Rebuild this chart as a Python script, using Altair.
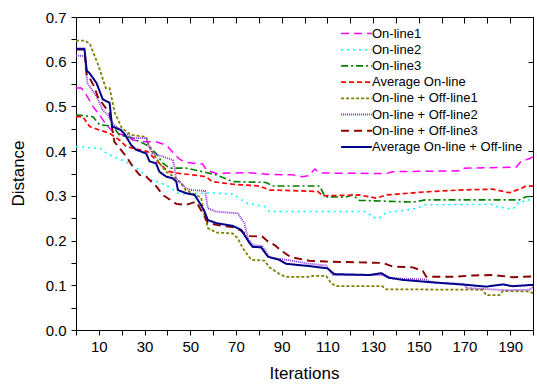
import altair as alt
import pandas as pd

series_names = ["On-line1", "On-line2", "On-line3", "Average On-line",
                "On-line + Off-line1", "On-line + Off-line2", "On-line + Off-line3",
                "Average On-line + Off-line"]
series_colors = ["#FF00FF", "#00FFFF", "#008000", "#FF0000",
                 "#808000", "#8A2BE2", "#8B0000", "#00008B"]
series_dash = [[8, 5], [2, 4], [7, 3, 2, 3], [5, 3], [3, 2], [1, 1], [8, 5], [1, 0]]
series_width = [1.5, 2, 1.5, 2.5, 1.5, 1.5, 1.5, 2]

x_tick_values = list(range(0, 201, 10))
y_tick_values = [0, 0.05, 0.1, 0.15, 0.2, 0.25, 0.3, 0.35, 0.4, 0.45, 0.5, 0.55, 0.6, 0.65, 0.7]

on1 = [(0, 0.541), (2.3, 0.541), (4.5, 0.526), (7.4, 0.5), (10.3, 0.481), (13.2, 0.459),
       (16.1, 0.444), (20.5, 0.436), (24.9, 0.425), (29.2, 0.421), (35, 0.421), (38, 0.416),
       (40.2, 0.41), (42.4, 0.397), (45.3, 0.382), (48.2, 0.375), (52.6, 0.372), (55.5, 0.371),
       (57, 0.358), (61.4, 0.35), (74.5, 0.352), (84.7, 0.348), (94.8, 0.347), (99, 0.343),
       (102, 0.345), (104.5, 0.36), (106.6, 0.351), (135.8, 0.35), (138.6, 0.354),
       (167.8, 0.356), (169.5, 0.362), (192.6, 0.364), (194.8, 0.377), (197.7, 0.382),
       (200, 0.387)]
on2 = [(0, 0.41), (10.6, 0.406), (13.5, 0.395), (16.4, 0.388), (22.2, 0.375), (27.4, 0.36),
       (32.2, 0.337), (39.5, 0.324), (45.3, 0.304), (51, 0.304), (58.4, 0.307), (68.6, 0.304),
       (74.5, 0.284), (82.5, 0.276), (84.7, 0.265), (127, 0.265), (130, 0.252), (132.8, 0.25),
       (135.8, 0.263), (144.5, 0.268), (148.9, 0.272), (153, 0.28), (182.4, 0.281),
       (184, 0.276), (191, 0.27), (194, 0.287), (197, 0.288), (200, 0.295)]
on3 = [(0, 0.481), (7.4, 0.477), (10.3, 0.459), (16.1, 0.456), (19, 0.436), (24.9, 0.429),
       (32.2, 0.41), (35, 0.395), (38, 0.373), (41, 0.362), (48.2, 0.362), (55.5, 0.354),
       (61.4, 0.347), (68.6, 0.332), (83.2, 0.33), (86, 0.322), (106.6, 0.322), (109, 0.298),
       (118, 0.297), (121, 0.302), (124, 0.29), (147.4, 0.286), (153, 0.291), (194, 0.291),
       (197, 0.298), (200, 0.299)]
avg_on = [(0, 0.477), (3, 0.477), (6, 0.455), (10.3, 0.447), (14.7, 0.44), (19, 0.425),
          (22, 0.41), (27.8, 0.403), (31.4, 0.399), (35, 0.38), (39.5, 0.358), (41, 0.354),
          (45.3, 0.35), (51, 0.347), (57, 0.343), (59.5, 0.332), (68.6, 0.326), (80.3, 0.322),
          (84.7, 0.313), (105.8, 0.31), (108, 0.3), (124, 0.302), (131.4, 0.295),
          (135.8, 0.302), (153, 0.309), (167.8, 0.313), (182.4, 0.315), (189.7, 0.307),
          (194, 0.315), (197, 0.322), (200, 0.322)]
off1 = [(0, 0.647), (3.7, 0.647), (6, 0.641), (10, 0.589), (13, 0.541), (14.7, 0.541),
        (17, 0.485), (20, 0.452), (24, 0.436), (30.7, 0.432), (32, 0.41), (36.5, 0.373),
        (39.5, 0.354), (43.8, 0.339), (46, 0.328), (48, 0.313), (52.6, 0.302), (54.8, 0.295),
        (56, 0.261), (57.7, 0.228), (61.4, 0.218), (68.5, 0.216), (70.8, 0.205), (73, 0.183),
        (76.7, 0.157), (82.5, 0.155), (84.7, 0.14), (89.8, 0.123), (92, 0.119), (102, 0.119),
        (103.6, 0.121), (109.5, 0.121), (111.7, 0.104), (113.9, 0.098), (134, 0.098),
        (135.8, 0.091), (178, 0.09), (179.5, 0.078), (185.3, 0.078), (186.8, 0.087),
        (198.5, 0.086), (200, 0.082)]
off2 = [(0, 0.613), (3.7, 0.613), (5, 0.552), (9, 0.522), (11.7, 0.492), (14, 0.481),
        (16, 0.462), (20, 0.444), (24.8, 0.429), (30.7, 0.429), (32, 0.41), (33.5, 0.395),
        (37.9, 0.388), (42.4, 0.38), (43, 0.365), (43.8, 0.339), (48.2, 0.317), (50.4, 0.313),
        (56.5, 0.311), (57.7, 0.272), (61, 0.265), (70.8, 0.261), (73.7, 0.239), (75.2, 0.205),
        (77.4, 0.19), (81.5, 0.188), (84.7, 0.162), (92, 0.157), (101, 0.149), (109.5, 0.144),
        (112.4, 0.123), (134, 0.123), (137, 0.116), (153, 0.113), (156, 0.106), (170, 0.103),
        (170.8, 0.094), (188, 0.089), (198.5, 0.09), (200, 0.096)]
off3 = [(0, 0.627), (3.7, 0.627), (4.7, 0.57), (6, 0.563), (8, 0.544), (9.5, 0.522),
        (12.5, 0.5), (14.7, 0.485), (16.8, 0.421), (22, 0.388), (24.9, 0.365), (27.8, 0.347),
        (30.7, 0.343), (35, 0.322), (38, 0.302), (41, 0.292), (43.9, 0.282), (48.2, 0.28),
        (52.6, 0.287), (55.5, 0.261), (57.7, 0.24), (61.4, 0.235), (68.6, 0.23), (71.6, 0.224),
        (75.2, 0.21), (81.5, 0.209), (84, 0.198), (86.9, 0.19), (90.5, 0.175), (94, 0.163),
        (102, 0.155), (109.5, 0.153), (134.3, 0.15), (138.6, 0.142), (147.4, 0.14),
        (151.8, 0.132), (153.3, 0.119), (165, 0.119), (173.7, 0.122), (182.4, 0.123),
        (191.2, 0.118), (200, 0.12)]
avg_off = [(0, 0.629), (3.7, 0.629), (4.7, 0.58), (6, 0.574), (9, 0.552), (11.7, 0.516),
           (14.7, 0.508), (15.8, 0.455), (19.8, 0.447), (22, 0.432), (24.1, 0.414),
           (26.3, 0.403), (30.7, 0.395), (32.2, 0.377), (35, 0.373), (36.5, 0.354),
           (39.5, 0.343), (42.4, 0.339), (43.9, 0.332), (44.6, 0.313), (48.2, 0.306),
           (51.9, 0.302), (53.3, 0.291), (56, 0.268), (57.7, 0.246), (61.4, 0.239),
           (68.5, 0.233), (72.3, 0.224), (76, 0.194), (77.3, 0.186), (81, 0.185), (84, 0.164),
           (89, 0.157), (92, 0.148), (102, 0.143), (110, 0.138), (113, 0.125), (128.4, 0.123),
           (133.6, 0.127), (137, 0.117), (143, 0.112), (157.6, 0.106), (170.8, 0.101),
           (179.5, 0.097), (186.8, 0.102), (191, 0.098), (200, 0.101)]

all_series = [on1, on2, on3, avg_on, off1, off2, off3, avg_off]

rows = []
for name, pts in zip(series_names, all_series):
    for i, (it, d) in enumerate(pts):
        rows.append({"series": name, "it": it, "dist": d, "order": i})
df = pd.DataFrame(rows)

FONT = "Liberation Sans"

legend_cfg = dict(
    orient="none", legendX=274, legendY=10, title=None,
    symbolType="M-5,0H5", symbolSize=38, labelFontSize=13, labelFont=FONT,
    labelColor="black", rowPadding=2.2, labelOffset=9, labelLimit=300,
)

xscale = alt.Scale(domain=[0, 200], nice=False, zero=False)
yscale = alt.Scale(domain=[0, 0.7], nice=False, zero=False)

lines = alt.Chart(df).mark_line(clip=True).encode(
    x=alt.X("it:Q", scale=xscale,
            axis=alt.Axis(values=x_tick_values, orient="bottom",
                          labelExpr="datum.value % 20 == 10 ? datum.label : ''",
                          title="Iterations", tickSize=5, labelPadding=4,
                          titleX=228, titleY=48, titleBaseline="alphabetic")),
    y=alt.Y("dist:Q", scale=yscale,
            axis=alt.Axis(values=y_tick_values, orient="left",
                          labelExpr="round(datum.value * 100) % 10 == 0 ? format(datum.value, '.1f') : ''",
                          title="Distance", tickSize=5, labelPadding=5,
                          titleX=-53, titleY=156, titleAngle=-90, titleAlign="center",
                          titleBaseline="alphabetic")),
    color=alt.Color("series:N", scale=alt.Scale(domain=series_names, range=series_colors),
                    legend=alt.Legend(**legend_cfg)),
    strokeDash=alt.StrokeDash("series:N", scale=alt.Scale(domain=series_names, range=series_dash),
                              legend=alt.Legend(**legend_cfg)),
    strokeWidth=alt.StrokeWidth("series:N", scale=alt.Scale(domain=series_names, range=series_width),
                                legend=alt.Legend(**legend_cfg)),
    order="order:Q",
)

frame = alt.Chart(df).mark_point(opacity=0).encode(
    x=alt.X("it:Q", scale=xscale,
            axis=alt.Axis(values=x_tick_values, orient="top", labels=False, title=None,
                          domain=False, tickSize=6, offset=-6)),
    y=alt.Y("dist:Q", scale=yscale,
            axis=alt.Axis(values=[0, 0.1, 0.2, 0.3, 0.4, 0.5, 0.6, 0.7], orient="right",
                          labels=False, title=None, domain=False, tickSize=5, offset=-5)),
)

chart = alt.layer(lines, frame).resolve_axis(
    x="independent", y="independent"
).properties(
    width=457, height=313,
    autosize=alt.AutoSizeParams(type="none"),
    padding={"left": 76, "top": 17, "right": 4, "bottom": 55},
    background="white",
).configure_view(
    stroke="black", strokeWidth=1
).configure_axis(
    grid=False, labelFont=FONT, titleFont=FONT, labelFontSize=15, titleFontSize=17,
    titleFontWeight="normal", labelColor="black", titleColor="black",
    tickColor="black", domainColor="black", domainWidth=1, tickWidth=1,
)

chart.save("out.html", embed_options={"renderer": "svg", "actions": False})
